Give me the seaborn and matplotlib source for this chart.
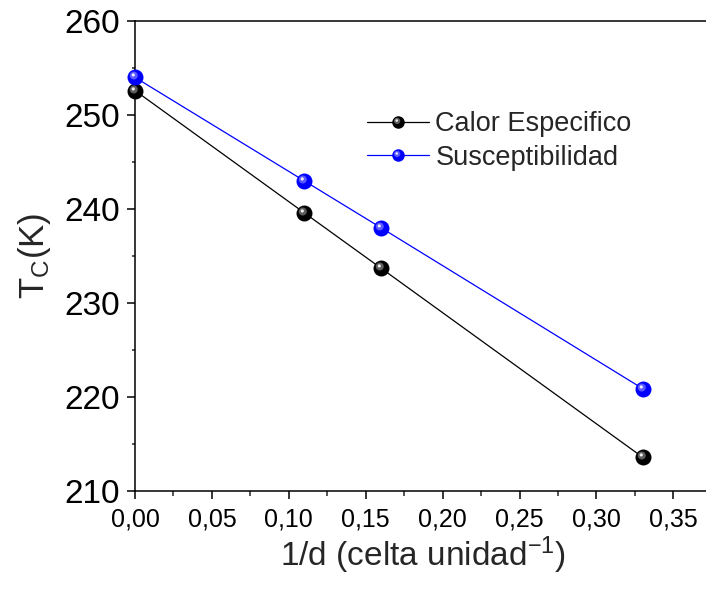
import numpy as np
import pandas as pd
import matplotlib
matplotlib.use("Agg")
import matplotlib.pyplot as plt
import seaborn as sns
from matplotlib.ticker import MultipleLocator, FuncFormatter
from matplotlib.path import Path
from matplotlib.legend_handler import HandlerTuple

# ---- data ----
inv_d = [0.0, 0.11, 0.16, 0.33]
calor_especifico = [252.6, 239.6, 233.7, 213.6]
susceptibilidad = [254.0, 243.0, 238.0, 220.9]
series_names = ["Calor Especifico", "Susceptibilidad"]
series_colors = ["#000000", "#0000ff"]
highlight_colors = ["#6e6e6e", "#6a6aff"]

df = pd.DataFrame({
    "x": inv_d * 2,
    "y": calor_especifico + susceptibilidad,
    "serie": [series_names[0]] * 4 + [series_names[1]] * 4,
})

sns.set_theme(style="white")
plt.rcParams["font.family"] = ["Liberation Sans", "DejaVu Sans"]
plt.rcParams["mathtext.fontset"] = "custom"
plt.rcParams["mathtext.rm"] = "Liberation Sans"
plt.rcParams["mathtext.it"] = "Liberation Sans:italic"


def circle_path(cx, cy, r):
    t = np.linspace(0, 2 * np.pi, 60)
    v = np.column_stack([cx + r * np.cos(t), cy + r * np.sin(t)])
    v = np.vstack([v, [[1, 1], [-1, -1]]])
    c = [Path.MOVETO] + [Path.LINETO] * 58 + [Path.CLOSEPOLY] + [Path.MOVETO, Path.MOVETO]
    return Path(v, c)


mid_path = circle_path(-0.22, 0.25, 0.5)
hot_path = circle_path(-0.28, 0.32, 0.2)

fig = plt.figure(figsize=(7.06, 5.96), dpi=100)
ax = fig.add_axes([135 / 706, 1 - 491 / 596, 576 / 706, 470 / 596])

MS = 11.5
sns.lineplot(data=df, x="x", y="y", hue="serie", palette=series_colors,
             hue_order=series_names, marker="o", markersize=MS,
             markeredgewidth=0, linewidth=0.9, legend=False, ax=ax,
             clip_on=False, zorder=3)

handles = []
for name, yv, c, hc in zip(series_names, [calor_especifico, susceptibilidad],
                           series_colors, highlight_colors):
    ax.plot(inv_d, yv, linestyle="none", marker=mid_path, markersize=MS,
            markerfacecolor=hc, markeredgewidth=0, clip_on=False, zorder=4, alpha=0.85)
    ax.plot(inv_d, yv, linestyle="none", marker=hot_path, markersize=MS,
            markerfacecolor="white", markeredgewidth=0, clip_on=False, zorder=5,
            alpha=0.9)
    h1 = matplotlib.lines.Line2D([], [], color=c, marker="o", markersize=9,
                                 markeredgewidth=0, linewidth=0.9)
    h2 = matplotlib.lines.Line2D([], [], linestyle="none", marker=mid_path, markersize=9,
                                 markerfacecolor=hc, markeredgewidth=0, alpha=0.85)
    h3 = matplotlib.lines.Line2D([], [], linestyle="none", marker=hot_path, markersize=9,
                                 markerfacecolor="white", markeredgewidth=0, alpha=0.9)
    handles.append((h1, h2, h3))

ax.set_xlim(0, 0.3745)
ax.set_ylim(210, 260)
ax.xaxis.set_major_locator(MultipleLocator(0.05))
ax.xaxis.set_minor_locator(MultipleLocator(0.025))
ax.yaxis.set_major_locator(MultipleLocator(10))
ax.yaxis.set_minor_locator(MultipleLocator(5))
ax.xaxis.set_major_formatter(FuncFormatter(lambda v, p: f"{v:.2f}".replace(".", ",")))
ax.yaxis.set_major_formatter(FuncFormatter(lambda v, p: f"{v:.0f}"))

ax.tick_params(axis="x", which="major", direction="out", length=6, width=1.1,
               labelsize=18, pad=6, colors="black", bottom=True, top=False)
ax.tick_params(axis="x", which="minor", direction="out", length=3.5, width=1.1,
               bottom=True, top=False)
ax.tick_params(axis="y", which="major", direction="out", length=6, width=1.1,
               labelsize=24, pad=5, colors="black", left=True, right=False)
ax.tick_params(axis="y", which="minor", direction="out", length=2.5, width=1.1,
               left=True, right=False)

for s in ax.spines.values():
    s.set_visible(True)
    s.set_color("black")
    s.set_linewidth(1.1)
ax.spines["right"].set_visible(False)

ax.set_xlabel("1/d (celta unidad$^{-1}$)", fontsize=24, labelpad=2)
ax.set_ylabel("T$_\\mathrm{C}$(K)", fontsize=25, labelpad=8)

ax.legend(handles, series_names, handler_map={tuple: HandlerTuple(ndivide=1, pad=0)},
          loc="upper left", bbox_to_anchor=(0.403, 0.808), frameon=False,
          fontsize=19.5, handlelength=2.3, handletextpad=0.22, labelspacing=0.27,
          borderpad=0, borderaxespad=0)

fig.savefig("out.png", dpi=100)
